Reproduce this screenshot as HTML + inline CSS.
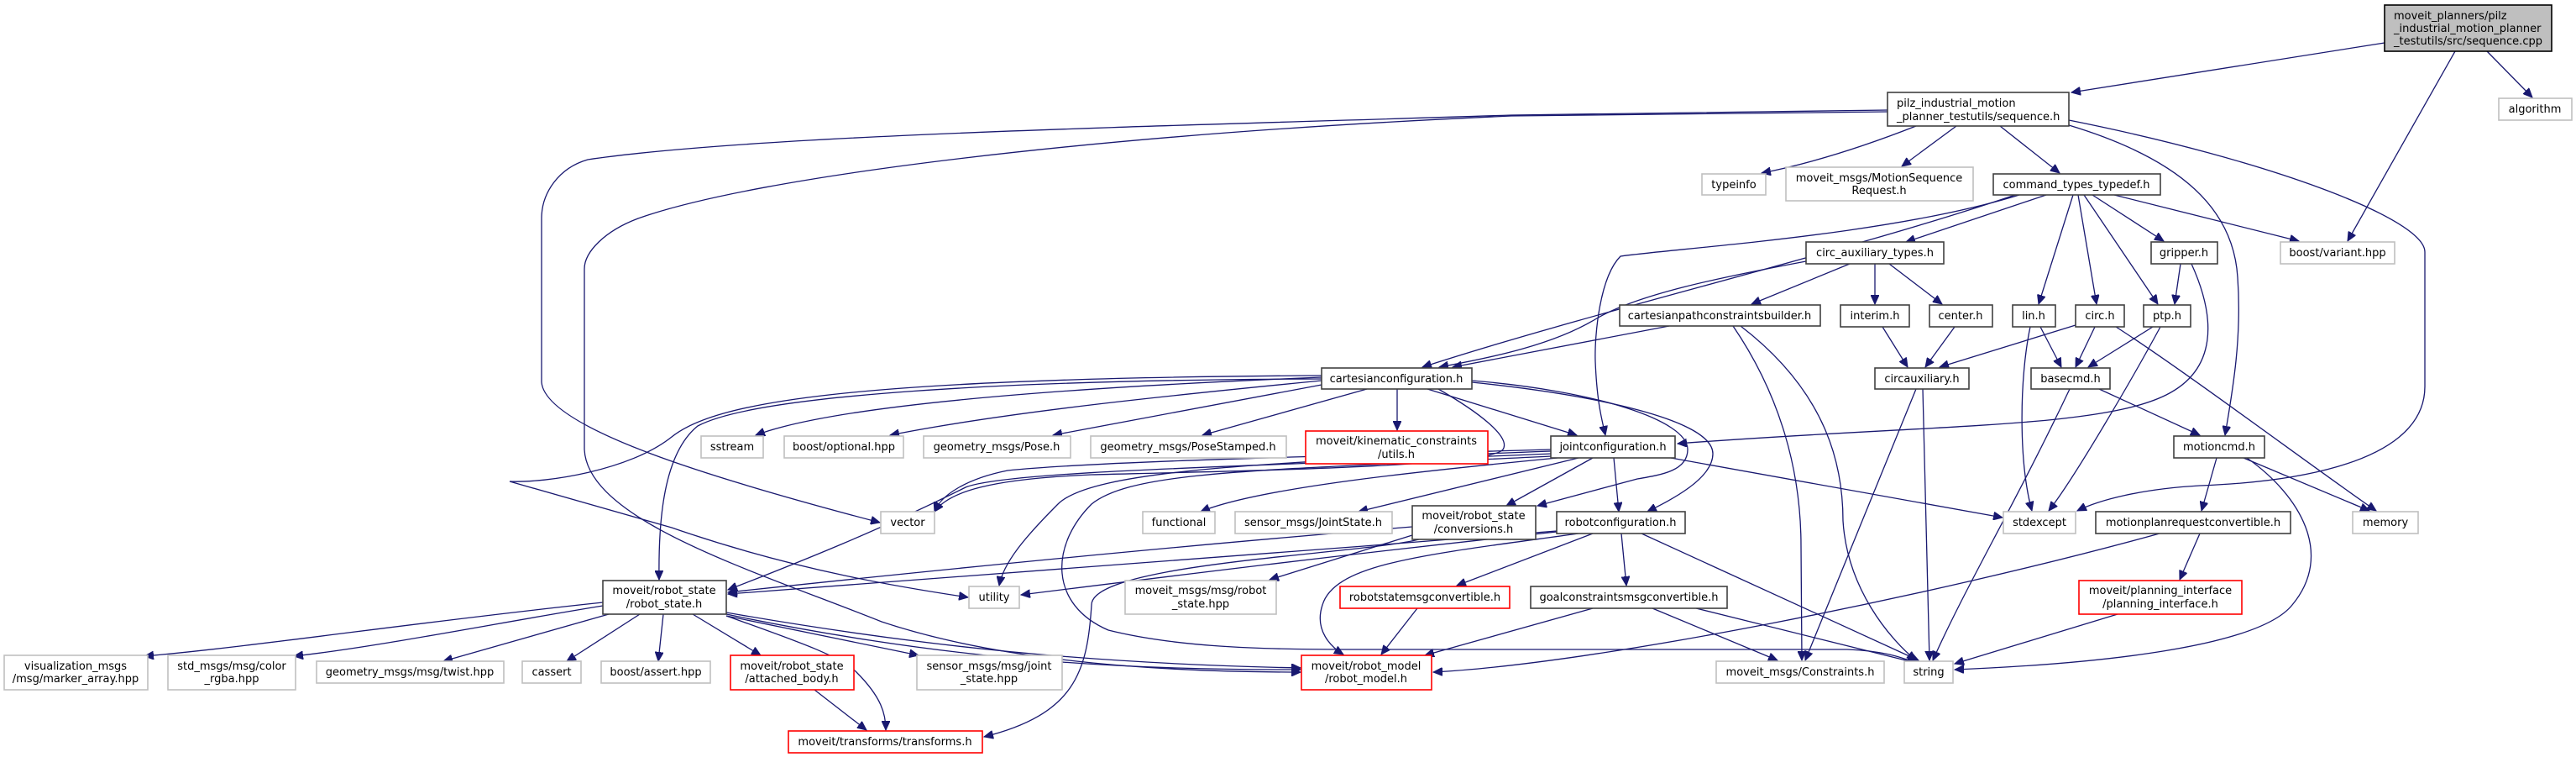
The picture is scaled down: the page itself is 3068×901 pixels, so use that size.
<!DOCTYPE html>
<html><head><meta charset="utf-8"><style>
html,body{margin:0;padding:0;background:#fff;}
svg{display:block;}
text{font-family:"DejaVu Sans","Liberation Sans",sans-serif;font-size:13px;fill:#000;}
.e{fill:none;stroke:#191970;stroke-width:1.3;marker-end:url(#a);}
.nb{fill:#fff;stroke:#404040;stroke-width:1.6;}
.ng{fill:#fff;stroke:#bfbfbf;stroke-width:1.6;}
.nr{fill:#fff;stroke:#ff0000;stroke-width:1.6;}
</style></head><body>
<svg width="3068" height="901" viewBox="0 0 3068 901" xmlns="http://www.w3.org/2000/svg">
<defs><marker id="a" markerUnits="userSpaceOnUse" markerWidth="12" markerHeight="10" refX="11" refY="5" orient="auto"><path d="M0,0 L11,5 L0,10 z" fill="#191970" stroke="#191970"/></marker></defs>
<g>
<path class="e" d="M2840,51 L2467,110"/>
<path class="e" d="M2924,61 L2796,287"/>
<path class="e" d="M2962,61 L3016,116"/>
<path class="e" d="M2282,150 Q2180,190 2098,206"/>
<path class="e" d="M2330,150 L2265,198"/>
<path class="e" d="M2382,150 L2453,206"/>
<path class="e" d="M2464,149 C2600,190 2660,250 2665,330 C2670,400 2660,460 2650,518"/>
<path class="e" d="M2464,143 C2700,190 2888,260 2888,300 L2888,460 C2888,560 2700,575 2620,578 C2550,582 2500,595 2474,608"/>
<path class="e" d="M2248,131 L1800,137 C1400,150 900,160 700,190 C665,200 645,230 645,260 L645,455 C650,510 850,570 1048,622"/>
<path class="e" d="M2248,133 L1800,138 C1300,160 900,210 760,260 C720,275 696,300 696,320 L696,535 C700,620 900,680 1050,740 C1200,790 1400,800 1549,800"/>
<path class="e" d="M2400,232 C2200,300 1900,370 1694,437"/>
<path class="e" d="M2405,232 C2250,280 2000,295 1930,305 C1905,330 1899,400 1900,430 C1902,480 1908,500 1912,518"/>
<path class="e" d="M2437,232 L2270,288"/>
<path class="e" d="M2469,232 L2428,362"/>
<path class="e" d="M2475,232 L2497,362"/>
<path class="e" d="M2482,232 L2570,362"/>
<path class="e" d="M2492,232 L2577,287"/>
<path class="e" d="M2518,232 L2738,287"/>
<path class="e" d="M2151,311 C2050,330 1950,350 1900,380 C1850,410 1780,425 1714,437"/>
<path class="e" d="M2203,314 L2086,362"/>
<path class="e" d="M2233,314 L2233,362"/>
<path class="e" d="M2250,314 L2313,362"/>
<path class="e" d="M1988,388 L1730,437"/>
<path class="e" d="M2064,388 C2120,470 2145,560 2145,650 L2146,786"/>
<path class="e" d="M2073,388 C2180,470 2195,560 2195,620 C2200,700 2250,760 2282,786"/>
<path class="e" d="M2242,389 L2272,437"/>
<path class="e" d="M2328,389 L2293,437"/>
<path class="e" d="M2472,387 L2310,437"/>
<path class="e" d="M2495,389 L2472,437"/>
<path class="e" d="M2520,389 C2600,440 2760,560 2830,608"/>
<path class="e" d="M2430,389 L2455,437"/>
<path class="e" d="M2418,389 C2405,450 2404,550 2420,608"/>
<path class="e" d="M2564,389 L2487,437"/>
<path class="e" d="M2573,389 C2540,450 2470,570 2440,608"/>
<path class="e" d="M2597,314 L2590,362"/>
<path class="e" d="M2610,314 C2640,380 2640,440 2580,470 C2500,510 2300,505 1998,528"/>
<path class="e" d="M2282,463 L2150,786"/>
<path class="e" d="M2290,463 L2298,786"/>
<path class="e" d="M2500,463 L2620,518"/>
<path class="e" d="M2465,463 C2400,600 2340,700 2302,786"/>
<path class="e" d="M2640,545 L2622,608"/>
<path class="e" d="M2672,545 L2822,608"/>
<path class="e" d="M2676,545 C2740,590 2780,660 2730,720 C2690,770 2500,790 2328,797"/>
<path class="e" d="M2620,635 L2596,690"/>
<path class="e" d="M2572,635 C2300,710 1900,790 1707,800"/>
<path class="e" d="M2522,731 L2328,790"/>
<path class="e" d="M1753,455 C1900,470 2040,500 2040,540 C2040,570 1990,595 1962,609"/>
<path class="e" d="M1753,453 C1900,465 2010,500 2010,535 C2010,560 1980,565 1950,570 L1831,602"/>
<path class="e" d="M1664,463 L1664,512"/>
<path class="e" d="M1700,463 L1878,518"/>
<path class="e" d="M1628,463 L1432,518"/>
<path class="e" d="M1574,458 L1254,518"/>
<path class="e" d="M1574,453 C1400,470 1200,490 1060,518"/>
<path class="e" d="M1574,449 C1300,460 1000,480 900,518"/>
<path class="e" d="M1574,451 C1200,452 900,470 831,507 C790,540 784,620 785,690"/>
<path class="e" d="M1574,447 C1000,450 850,480 800,520 C750,560 650,575 607,573 L800,628 C950,680 1080,700 1153,711"/>
<path class="e" d="M1713,463 C1760,490 1800,520 1790,535 C1775,555 1500,560 1300,565 C1180,570 1130,585 1113,609"/>
<path class="e" d="M1847,535 C1500,545 1300,550 1200,560 C1150,570 1120,590 1113,609"/>
<path class="e" d="M1847,537 C1500,550 1300,560 1260,600 C1220,640 1195,670 1190,697"/>
<path class="e" d="M1855,545 C1700,560 1500,580 1430,609"/>
<path class="e" d="M1880,545 L1618,609"/>
<path class="e" d="M1897,545 L1794,602"/>
<path class="e" d="M1922,545 L1928,609"/>
<path class="e" d="M1990,545 L2385,616"/>
<path class="e" d="M1848,540 C1500,555 1200,560 1150,580 C1050,630 950,670 867,702"/>
<path class="e" d="M1848,543 C1500,560 1350,560 1300,600 C1250,650 1250,720 1320,750 C1400,770 1500,773 1600,773 L2200,773 C2250,775 2270,785 2282,789"/>
<path class="e" d="M1682,627 C1400,650 1100,680 867,705"/>
<path class="e" d="M1682,637 L1512,690"/>
<path class="e" d="M1690,642 C1620,660 1300,670 1300,720 C1295,800 1280,850 1172,877"/>
<path class="e" d="M1854,632 C1500,660 1100,690 867,707"/>
<path class="e" d="M1854,633 C1600,660 1400,685 1216,708"/>
<path class="e" d="M1880,635 C1700,660 1590,670 1575,720 C1565,750 1585,770 1600,779"/>
<path class="e" d="M1897,635 L1735,697"/>
<path class="e" d="M1931,635 L1937,697"/>
<path class="e" d="M1955,635 L2285,786"/>
<path class="e" d="M1688,724 L1645,779"/>
<path class="e" d="M1897,724 L1697,780"/>
<path class="e" d="M1968,724 L2117,786"/>
<path class="e" d="M2020,724 L2282,789"/>
<path class="e" d="M718,717 C500,740 300,770 172,781"/>
<path class="e" d="M718,721 C600,740 450,770 350,781"/>
<path class="e" d="M725,731 L528,787"/>
<path class="e" d="M762,731 L675,787"/>
<path class="e" d="M790,731 L784,787"/>
<path class="e" d="M825,731 L906,780"/>
<path class="e" d="M865,733 C940,760 1000,780 1020,800 C1050,830 1055,850 1055,869"/>
<path class="e" d="M865,733 L1094,780"/>
<path class="e" d="M865,729 C1100,770 1300,790 1549,795"/>
<path class="e" d="M865,731 C1100,780 1300,798 1549,797"/>
<path class="e" d="M970,821 L1032,869"/>
</g>
<g>
<rect x="2840" y="6" width="199" height="55" fill="#bfbfbf" stroke="#000" stroke-width="1.6"/>
<text x="2851" y="23">moveit_planners/pilz</text><text x="2851" y="38">_industrial_motion_planner</text><text x="2851" y="53">_testutils/src/sequence.cpp</text>
<rect class="nb" x="2248" y="110" width="216" height="40"/>
<text x="2259" y="127">pilz_industrial_motion</text><text x="2259" y="143">_planner_testutils/sequence.h</text>
<rect class="ng" x="2976" y="117" width="87" height="26"/><text x="3019" y="134" text-anchor="middle">algorithm</text>
<rect class="ng" x="2027" y="207" width="76" height="25"/><text x="2065" y="224" text-anchor="middle">typeinfo</text>
<rect class="ng" x="2127" y="199" width="223" height="40"/><text x="2238" y="216" text-anchor="middle">moveit_msgs/MotionSequence</text><text x="2238" y="231" text-anchor="middle">Request.h</text>
<rect class="nb" x="2374" y="207" width="199" height="25"/><text x="2473" y="224" text-anchor="middle">command_types_typedef.h</text>
<rect class="ng" x="2716" y="288" width="136" height="26"/><text x="2784" y="305" text-anchor="middle">boost/variant.hpp</text>
<rect class="nb" x="2151" y="288" width="164" height="26"/><text x="2233" y="305" text-anchor="middle">circ_auxiliary_types.h</text>
<rect class="nb" x="2562" y="288" width="79" height="26"/><text x="2601" y="305" text-anchor="middle">gripper.h</text>
<rect class="nb" x="1929" y="363" width="239" height="25"/><text x="2048" y="380" text-anchor="middle">cartesianpathconstraintsbuilder.h</text>
<rect class="nb" x="2192" y="363" width="82" height="26"/><text x="2233" y="380" text-anchor="middle">interim.h</text>
<rect class="nb" x="2298" y="363" width="75" height="26"/><text x="2335" y="380" text-anchor="middle">center.h</text>
<rect class="nb" x="2397" y="363" width="51" height="26"/><text x="2422" y="380" text-anchor="middle">lin.h</text>
<rect class="nb" x="2472" y="363" width="58" height="26"/><text x="2501" y="380" text-anchor="middle">circ.h</text>
<rect class="nb" x="2553" y="363" width="56" height="26"/><text x="2581" y="380" text-anchor="middle">ptp.h</text>
<rect class="nb" x="1574" y="438" width="179" height="25"/><text x="1663" y="455" text-anchor="middle">cartesianconfiguration.h</text>
<rect class="nb" x="2233" y="438" width="112" height="25"/><text x="2289" y="455" text-anchor="middle">circauxiliary.h</text>
<rect class="nb" x="2419" y="438" width="94" height="25"/><text x="2466" y="455" text-anchor="middle">basecmd.h</text>
<rect class="ng" x="835" y="519" width="74" height="26"/><text x="872" y="536" text-anchor="middle">sstream</text>
<rect class="ng" x="934" y="519" width="142" height="26"/><text x="1005" y="536" text-anchor="middle">boost/optional.hpp</text>
<rect class="ng" x="1100" y="519" width="175" height="26"/><text x="1187" y="536" text-anchor="middle">geometry_msgs/Pose.h</text>
<rect class="ng" x="1299" y="519" width="233" height="26"/><text x="1415" y="536" text-anchor="middle">geometry_msgs/PoseStamped.h</text>
<rect class="nr" x="1555" y="513" width="217" height="39"/><text x="1663" y="529" text-anchor="middle">moveit/kinematic_constraints</text><text x="1663" y="545" text-anchor="middle">/utils.h</text>
<rect class="nb" x="1847" y="519" width="148" height="26"/><text x="1921" y="536" text-anchor="middle">jointconfiguration.h</text>
<rect class="nb" x="2589" y="519" width="108" height="26"/><text x="2643" y="536" text-anchor="middle">motioncmd.h</text>
<rect class="nb" x="1682" y="602" width="147" height="40"/><text x="1755" y="618" text-anchor="middle">moveit/robot_state</text><text x="1755" y="634" text-anchor="middle">/conversions.h</text>
<rect class="ng" x="1049" y="609" width="64" height="26"/><text x="1081" y="626" text-anchor="middle">vector</text>
<rect class="ng" x="1361" y="609" width="86" height="26"/><text x="1404" y="626" text-anchor="middle">functional</text>
<rect class="ng" x="1471" y="609" width="187" height="26"/><text x="1564" y="626" text-anchor="middle">sensor_msgs/JointState.h</text>
<rect class="nb" x="1854" y="609" width="153" height="26"/><text x="1930" y="626" text-anchor="middle">robotconfiguration.h</text>
<rect class="ng" x="2386" y="609" width="86" height="26"/><text x="2429" y="626" text-anchor="middle">stdexcept</text>
<rect class="nb" x="2496" y="609" width="232" height="26"/><text x="2612" y="626" text-anchor="middle">motionplanrequestconvertible.h</text>
<rect class="ng" x="2802" y="609" width="78" height="26"/><text x="2841" y="626" text-anchor="middle">memory</text>
<rect class="nb" x="718" y="691" width="147" height="40"/><text x="791" y="707" text-anchor="middle">moveit/robot_state</text><text x="791" y="723" text-anchor="middle">/robot_state.h</text>
<rect class="ng" x="1154" y="698" width="60" height="26"/><text x="1184" y="715" text-anchor="middle">utility</text>
<rect class="ng" x="1340" y="691" width="180" height="40"/><text x="1430" y="707" text-anchor="middle">moveit_msgs/msg/robot</text><text x="1430" y="723" text-anchor="middle">_state.hpp</text>
<rect class="nr" x="1596" y="698" width="202" height="26"/><text x="1697" y="715" text-anchor="middle">robotstatemsgconvertible.h</text>
<rect class="nb" x="1823" y="698" width="234" height="26"/><text x="1940" y="715" text-anchor="middle">goalconstraintsmsgconvertible.h</text>
<rect class="nr" x="2476" y="691" width="194" height="40"/><text x="2573" y="707" text-anchor="middle">moveit/planning_interface</text><text x="2573" y="723" text-anchor="middle">/planning_interface.h</text>
<rect class="ng" x="5" y="780" width="171" height="41"/><text x="90" y="797" text-anchor="middle">visualization_msgs</text><text x="90" y="812" text-anchor="middle">/msg/marker_array.hpp</text>
<rect class="ng" x="200" y="780" width="152" height="41"/><text x="276" y="797" text-anchor="middle">std_msgs/msg/color</text><text x="276" y="812" text-anchor="middle">_rgba.hpp</text>
<rect class="ng" x="377" y="787" width="223" height="26"/><text x="488" y="804" text-anchor="middle">geometry_msgs/msg/twist.hpp</text>
<rect class="ng" x="622" y="787" width="70" height="26"/><text x="657" y="804" text-anchor="middle">cassert</text>
<rect class="ng" x="716" y="787" width="130" height="26"/><text x="781" y="804" text-anchor="middle">boost/assert.hpp</text>
<rect class="nr" x="870" y="780" width="147" height="41"/><text x="943" y="797" text-anchor="middle">moveit/robot_state</text><text x="943" y="812" text-anchor="middle">/attached_body.h</text>
<rect class="ng" x="1092" y="780" width="173" height="41"/><text x="1178" y="797" text-anchor="middle">sensor_msgs/msg/joint</text><text x="1178" y="812" text-anchor="middle">_state.hpp</text>
<rect class="nr" x="1550" y="780" width="155" height="41"/><text x="1627" y="797" text-anchor="middle">moveit/robot_model</text><text x="1627" y="812" text-anchor="middle">/robot_model.h</text>
<rect class="ng" x="2044" y="787" width="200" height="26"/><text x="2144" y="804" text-anchor="middle">moveit_msgs/Constraints.h</text>
<rect class="ng" x="2268" y="787" width="58" height="26"/><text x="2297" y="804" text-anchor="middle">string</text>
<rect class="nr" x="939" y="870" width="231" height="26"/><text x="1054" y="887" text-anchor="middle">moveit/transforms/transforms.h</text>
</g>
</svg>
</body></html>
